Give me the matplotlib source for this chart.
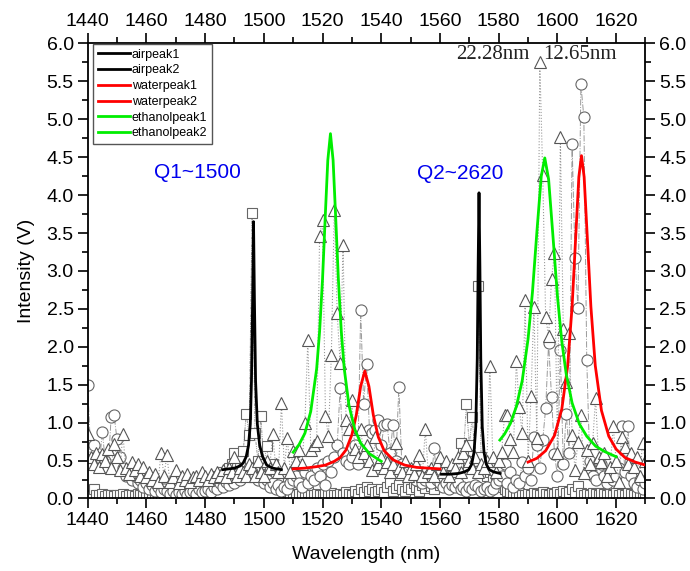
"""Lorentzian fits of the air / water / ethanol resonance peaks over the raw spectra."""

import matplotlib
matplotlib.use("Agg")
import matplotlib.pyplot as plt
import numpy as np
from matplotlib.ticker import MultipleLocator

plt.rcParams["font.family"] = ["Liberation Sans", "DejaVu Sans"]

# ---------------------------------------------------------------------------
# Raw spectra, one value per nm from 1440 to 1630
# ---------------------------------------------------------------------------
wl = np.arange(1440, 1631)

air_raw = [
    0.05, 0.03, 0.12, 0.05, 0.04, 0.06, 0.03, 0.05, 0.04, 0.03,
    0.05, 0.04, 0.06, 0.03, 0.05, 0.04, 0.03, 0.06, 0.04, 0.05,
    0.03, 0.05, 0.04, 0.06, 0.03, 0.05, 0.04, 0.03, 0.05, 0.04,
    0.06, 0.04, 0.05, 0.08, 0.06, 0.10, 0.08, 0.12, 0.10, 0.15,
    0.12, 0.20, 0.18, 0.25, 0.30, 0.28, 0.35, 0.30, 0.40, 0.45,
    0.60, 0.45, 0.50, 0.62, 1.12, 0.84, 3.77, 0.86, 0.50, 1.09,
    0.45, 0.69, 0.38, 0.45, 0.30, 0.20, 0.15, 0.10, 0.08, 0.06,
    0.05, 0.04, 0.06, 0.05, 0.04, 0.08, 0.05, 0.04, 0.06, 0.05,
    0.04, 0.06, 0.05, 0.07, 0.05, 0.04, 0.06, 0.05, 0.08, 0.06,
    0.05, 0.10, 0.06, 0.12, 0.08, 0.15, 0.10, 0.12, 0.08, 0.10,
    0.12, 0.08, 0.15, 0.20, 0.10, 0.14, 0.18, 0.12, 0.10, 0.15,
    0.12, 0.20, 0.15, 0.10, 0.18, 0.14, 0.20, 0.16, 0.12, 0.22,
    0.18, 0.25, 0.20, 0.30, 0.28, 0.35, 0.40, 0.73, 0.60, 1.24,
    0.70, 1.08, 0.50, 2.80, 0.55, 0.40, 0.30, 0.35, 0.25, 0.20,
    0.18, 0.15, 0.12, 0.10, 0.08, 0.06, 0.05, 0.07, 0.05, 0.04,
    0.06, 0.05, 0.07, 0.06, 0.05, 0.08, 0.06, 0.05, 0.07, 0.06,
    0.08, 0.06, 0.10, 0.07, 0.09, 0.12, 0.08, 0.16, 0.07, 0.05,
    0.06, 0.05, 0.07, 0.06, 0.05, 0.07, 0.06, 0.05, 0.06, 0.05,
    0.07, 0.05, 0.06, 0.05, 0.07, 0.06, 0.05, 0.06, 0.05, 0.07,
    0.06,
]

water_raw = [
    1.49, 0.65, 0.70, 0.55, 0.45, 0.88, 0.50, 0.40, 1.07, 1.10,
    0.78, 0.55, 0.40, 0.30, 0.35, 0.25, 0.30, 0.20, 0.25, 0.15,
    0.20, 0.12, 0.18, 0.10, 0.15, 0.08, 0.12, 0.10, 0.06, 0.10,
    0.05, 0.08, 0.06, 0.10, 0.05, 0.08, 0.10, 0.06, 0.12, 0.08,
    0.10, 0.12, 0.08, 0.15, 0.12, 0.20, 0.15, 0.22, 0.18, 0.25,
    0.20, 0.30, 0.25, 0.35, 0.30, 0.40, 0.35, 0.30, 0.25, 0.30,
    0.20, 0.25, 0.15, 0.20, 0.12, 0.18, 0.10, 0.15, 0.12, 0.20,
    0.25, 0.30, 0.20, 0.15, 0.35, 0.20, 0.30, 0.25, 0.40, 0.30,
    0.45, 0.18, 0.50, 0.35, 0.55, 0.70, 1.46, 0.60, 0.50, 0.45,
    0.55, 0.70, 0.45, 2.48, 1.25, 1.77, 0.90, 0.86, 0.90, 1.04,
    0.70, 0.97, 0.98, 0.60, 0.97, 0.50, 1.47, 0.45, 0.40, 0.35,
    0.30, 0.35, 0.25, 0.30, 0.20, 0.25, 0.30, 0.20, 0.66, 0.25,
    0.20, 0.15, 0.20, 0.12, 0.18, 0.15, 0.20, 0.12, 0.15, 0.10,
    0.15, 0.12, 0.18, 0.15, 0.10, 0.12, 0.15, 0.10, 0.12, 0.20,
    0.25, 0.30, 0.45, 0.20, 0.35, 0.15, 0.25, 0.20, 0.48, 0.30,
    0.40, 0.25, 0.81, 0.70, 0.40, 0.77, 1.19, 2.05, 1.34, 0.59,
    0.30, 1.96, 0.45, 1.12, 0.60, 4.68, 3.17, 2.51, 5.46, 5.03,
    1.82, 0.50, 0.30, 0.25, 0.48, 0.45, 0.30, 0.20, 0.35, 0.25,
    0.30, 0.40, 0.95, 0.35, 0.95, 0.30, 0.20, 0.15, 0.25, 0.12,
    0.20,
]

ethanol_raw = [
    0.85, 0.55, 0.45, 0.60, 0.42, 0.58, 0.50, 0.65, 0.40, 0.72,
    0.55, 0.38, 0.85, 0.40, 0.32, 0.48, 0.38, 0.45, 0.30, 0.42,
    0.28, 0.35, 0.25, 0.32, 0.22, 0.60, 0.30, 0.57, 0.22, 0.28,
    0.38, 0.20, 0.30, 0.25, 0.32, 0.22, 0.28, 0.30, 0.25, 0.35,
    0.30, 0.25, 0.32, 0.28, 0.35, 0.30, 0.38, 0.28, 0.40, 0.35,
    0.55, 0.30, 0.40, 0.35, 0.30, 0.45, 0.40, 0.30, 0.50, 0.35,
    0.30, 0.50, 0.40, 0.85, 0.45, 0.35, 1.26, 0.40, 0.80, 0.35,
    0.62, 0.50, 0.64, 0.45, 1.00, 2.09, 0.64, 0.70, 0.76, 3.46,
    3.67, 1.09, 0.82, 1.89, 3.80, 2.44, 1.78, 3.34, 1.03, 0.92,
    1.30, 0.65, 0.55, 0.91, 0.60, 0.70, 0.50, 0.37, 0.81, 0.45,
    0.55, 0.40, 0.48, 0.35, 0.45, 0.73, 0.40, 0.35, 0.50, 0.30,
    0.40, 0.32, 0.45, 0.57, 0.30, 0.91, 0.35, 0.40, 0.30, 0.45,
    0.55, 0.35, 0.50, 0.30, 0.45, 0.40, 0.55, 0.35, 0.60, 0.70,
    0.50, 0.40, 0.55, 0.35, 0.45, 0.40, 0.50, 1.75, 0.55, 0.35,
    0.50, 0.61, 1.10, 1.10, 0.78, 0.61, 1.81, 1.20, 0.86, 2.62,
    0.50, 1.35, 2.53, 0.80, 5.75, 4.27, 2.39, 2.14, 2.90, 3.23,
    0.60, 4.77, 2.23, 1.54, 2.18, 0.84, 0.38, 0.75, 1.10, 0.33,
    0.64, 0.45, 0.73, 1.33, 0.55, 0.48, 0.60, 0.30, 0.42, 0.95,
    0.50, 0.22, 0.81, 0.68, 0.45, 0.60, 0.42, 0.55, 0.30, 0.73,
    0.50,
]

# ---------------------------------------------------------------------------
# Fit curves, sampled off the figure
# ---------------------------------------------------------------------------
air1_x = [1486, 1488, 1490, 1492, 1493, 1494, 1494.8, 1495.4, 1495.8, 1496.2,
          1496.5, 1496.8, 1497.2, 1497.8, 1498.6, 1499.6, 1501, 1503, 1506]
air1_y = [0.38, 0.39, 0.40, 0.43, 0.47, 0.55, 0.70, 0.98, 1.55, 2.64,
          3.65, 2.64, 1.55, 0.98, 0.70, 0.55, 0.44, 0.40, 0.38]

air2_x = [1560.5, 1563.3, 1566.3, 1568.3, 1569.8, 1570.8, 1571.6, 1572.2, 1572.7, 1573.0,
          1573.3, 1573.6, 1573.9, 1574.4, 1575.0, 1575.8, 1576.8, 1578.3, 1580.5]
air2_y = [0.32, 0.32, 0.33, 0.35, 0.38, 0.45, 0.61, 0.95, 1.84, 3.05,
          4.03, 3.05, 1.84, 0.95, 0.61, 0.45, 0.38, 0.35, 0.33]

eth1_x = [1510, 1512, 1514, 1516, 1518, 1519, 1520, 1521, 1521.8, 1522.7,
          1523.6, 1524.4, 1525.4, 1526.4, 1527.4, 1529, 1531, 1533, 1536, 1540]
eth1_y = [0.61, 0.71, 0.86, 1.15, 1.71, 2.20, 2.89, 3.78, 4.46, 4.81,
          4.46, 3.78, 2.89, 2.20, 1.71, 1.23, 0.91, 0.73, 0.59, 0.49]

water1_x = [1510, 1514, 1518, 1521, 1524, 1526, 1528, 1530, 1531.5, 1533,
            1534.4, 1535.8, 1537.3, 1539, 1541, 1544, 1548, 1552, 1556, 1560]
water1_y = [0.39, 0.40, 0.42, 0.44, 0.49, 0.54, 0.64, 0.84, 1.10, 1.48,
            1.68, 1.48, 1.10, 0.81, 0.63, 0.51, 0.44, 0.41, 0.40, 0.39]

eth2_x = [1580.4, 1582, 1584, 1586, 1588, 1590, 1591.5, 1593, 1594.5, 1595.7,
          1597, 1598.5, 1600, 1601.5, 1603, 1605, 1607.5, 1610, 1613, 1616, 1620]
eth2_y = [0.77, 0.85, 0.99, 1.21, 1.55, 2.10, 2.72, 3.51, 4.25, 4.49,
          4.21, 3.45, 2.67, 2.07, 1.64, 1.26, 0.98, 0.82, 0.69, 0.62, 0.55]

water2_x = [1590, 1593, 1596, 1599, 1601.5, 1603.5, 1605, 1606.3, 1607.3, 1608.2,
            1609.1, 1610.1, 1611.4, 1612.9, 1615, 1617.5, 1620, 1623, 1626.5, 1630]
water2_y = [0.48, 0.53, 0.63, 0.83, 1.18, 1.75, 2.53, 3.50, 4.24, 4.52,
            4.24, 3.50, 2.53, 1.75, 1.16, 0.82, 0.65, 0.54, 0.48, 0.44]

# ---------------------------------------------------------------------------
# Plot
# ---------------------------------------------------------------------------
fig = plt.figure(figsize=(6.9, 5.71), dpi=100)
ax = fig.add_axes([0.127, 0.127, 0.8085, 0.797])

ax.plot(wl, air_raw, linestyle=(0, (3, 1, 1, 1, 1, 1)), color="#9a9a9a", linewidth=0.7,
        marker="s", markersize=6.5, markerfacecolor="white", markeredgecolor="#666666",
        markeredgewidth=0.8, zorder=2)
ax.plot(wl, water_raw, linestyle="-.", color="#9a9a9a", linewidth=0.7,
        marker="o", markersize=8, markerfacecolor="white", markeredgecolor="#666666",
        markeredgewidth=0.8, zorder=2)
ax.plot(wl, ethanol_raw, linestyle=":", color="#9a9a9a", linewidth=0.8,
        marker="^", markersize=9, markerfacecolor="white", markeredgecolor="#555555",
        markeredgewidth=0.8, zorder=2)

ax.plot(air1_x, air1_y, color="black", linewidth=2, label="airpeak1", zorder=4)
ax.plot(air2_x, air2_y, color="black", linewidth=2, label="airpeak2", zorder=4)
ax.plot(water1_x, water1_y, color="#ff0000", linewidth=2, label="waterpeak1", zorder=4)
ax.plot(water2_x, water2_y, color="#ff0000", linewidth=2, label="waterpeak2", zorder=4)
ax.plot(eth1_x, eth1_y, color="#00ee00", linewidth=2, label="ethanolpeak1", zorder=4)
ax.plot(eth2_x, eth2_y, color="#00ee00", linewidth=2, label="ethanolpeak2", zorder=4)

ax.set_xlim(1440, 1630)
ax.set_ylim(0, 6)
ax.xaxis.set_major_locator(MultipleLocator(20))
ax.xaxis.set_minor_locator(MultipleLocator(10))
ax.yaxis.set_major_locator(MultipleLocator(0.5))
ax.yaxis.set_minor_locator(MultipleLocator(0.25))
ax.yaxis.set_major_formatter(matplotlib.ticker.FormatStrFormatter("%.1f"))
ax.tick_params(which="both", direction="out", top=True, right=True,
               labeltop=True, labelright=True, width=1.2, labelsize=14)
ax.tick_params(which="major", length=7, pad=3)
ax.tick_params(which="minor", length=4)
for sp in ax.spines.values():
    sp.set_linewidth(1.3)

ax.set_xlabel("Wavelength (nm)", fontsize=14, labelpad=12)
ax.set_ylabel("Intensity (V)", fontsize=14, labelpad=8)

ax.text(1477.4, 4.3, "Q1~1500", color="#0000ee", fontsize=15, ha="center", va="center")
ax.text(1567.0, 4.28, "Q2~2620", color="#0000ee", fontsize=15, ha="center", va="center")
ax.text(1578.0, 5.85, "22.28nm", family=["Liberation Serif", "DejaVu Serif"],
        fontsize=15, ha="center", va="center", color="#222222")
ax.text(1607.5, 5.85, "12.65nm", family=["Liberation Serif", "DejaVu Serif"],
        fontsize=15, ha="center", va="center", color="#222222")

leg = ax.legend(loc="upper left", bbox_to_anchor=(0.01, 0.998), borderaxespad=0,
                fontsize=9, labelspacing=0.3, handlelength=2.6, handletextpad=0.15,
                borderpad=0.35, fancybox=False, framealpha=1, edgecolor="#555555")
leg.get_frame().set_linewidth(1.0)

fig.savefig("out.png", dpi=100)
